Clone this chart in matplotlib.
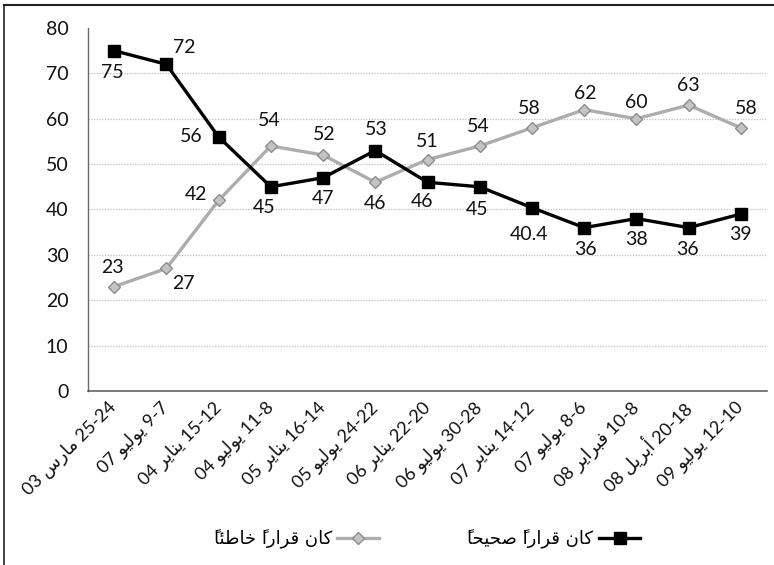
import matplotlib
matplotlib.use("Agg")
import matplotlib.pyplot as plt
from matplotlib.lines import Line2D

# ---- data -------------------------------------------------------------
days = ["25-24", "9-7", "15-12", "11-8", "16-14", "24-22", "22-20",
        "30-28", "14-12", "8-6", "10-8", "20-18", "12-10"]
months = ["مارس", "يوليو", "يناير", "يوليو", "يناير", "يوليو", "يناير",
          "يوليو", "يناير", "يوليو", "فبراير", "أبريل", "يوليو"]
years = ["03", "07", "04", "04", "05", "05", "06",
         "06", "07", "07", "08", "08", "09"]

right_decision = [75, 72, 56, 45, 47, 53, 46, 45, 40.4, 36, 38, 36, 39]
wrong_decision = [23, 27, 42, 54, 52, 46, 51, 54, 58, 62, 60, 63, 58]

label_right = "كان قراراً صحيحاً"
label_wrong = "كان قراراً خاطئاً"

yticks = [0, 10, 20, 30, 40, 50, 60, 70, 80]

# value-label offsets in points (dx, dy)
off_right = [(-1, -16), (13, 12), (-20, 0), (-5, -15), (0, -15), (1, 15),
             (-4, -14), (-2, -16), (-2, -19), (1, -16), (0, -15), (-1, -16),
             (0, -15)]
off_wrong = [(-1, 14), (12, -11), (-16, 4), (-1, 18), (1, 15), (0, -15),
             (0, 13), (-1, 14), (-2, 14), (1, 12), (0, 12), (0, 14), (4, 14)]


# ---- minimal Arabic shaping (contextual forms + visual order) ---------
# letter: (isolated, final, initial, medial); None = letter does not join left
FORMS = {
    "\u0623": ("\uFE83", "\uFE84", None, None),
    "\u0626": ("\uFE89", "\uFE8A", "\uFE8B", "\uFE8C"),
    "\u0627": ("\uFE8D", "\uFE8E", None, None),
    "\u0628": ("\uFE8F", "\uFE90", "\uFE91", "\uFE92"),
    "\u062A": ("\uFE95", "\uFE96", "\uFE97", "\uFE98"),
    "\u062D": ("\uFEA1", "\uFEA2", "\uFEA3", "\uFEA4"),
    "\u062E": ("\uFEA5", "\uFEA6", "\uFEA7", "\uFEA8"),
    "\u062F": ("\uFEA9", "\uFEAA", None, None),
    "\u0631": ("\uFEAD", "\uFEAE", None, None),
    "\u0633": ("\uFEB1", "\uFEB2", "\uFEB3", "\uFEB4"),
    "\u0635": ("\uFEB9", "\uFEBA", "\uFEBB", "\uFEBC"),
    "\u0637": ("\uFEC1", "\uFEC2", "\uFEC3", "\uFEC4"),
    "\u0641": ("\uFED1", "\uFED2", "\uFED3", "\uFED4"),
    "\u0642": ("\uFED5", "\uFED6", "\uFED7", "\uFED8"),
    "\u0643": ("\uFED9", "\uFEDA", "\uFEDB", "\uFEDC"),
    "\u0644": ("\uFEDD", "\uFEDE", "\uFEDF", "\uFEE0"),
    "\u0645": ("\uFEE1", "\uFEE2", "\uFEE3", "\uFEE4"),
    "\u0646": ("\uFEE5", "\uFEE6", "\uFEE7", "\uFEE8"),
    "\u0648": ("\uFEED", "\uFEEE", None, None),
    "\u064A": ("\uFEF1", "\uFEF2", "\uFEF3", "\uFEF4"),
}
MARKS = {"\u064B", "\u064E", "\u064F", "\u0650", "\u0651", "\u0652"}


def shape_word(word):
    clusters = []
    for ch in word:
        if ch in MARKS and clusters:
            clusters[-1].append(ch)
        else:
            clusters.append([ch])
    bases = [c[0] for c in clusters]
    for i, b in enumerate(bases):
        if b not in FORMS:
            continue
        prev_b = bases[i - 1] if i > 0 else None
        next_b = bases[i + 1] if i + 1 < len(bases) else None
        joins_prev = prev_b in FORMS and FORMS[prev_b][2] is not None
        joins_next = next_b in FORMS and FORMS[b][2] is not None
        iso, fin, ini, med = FORMS[b]
        if joins_prev and joins_next:
            form = med
        elif joins_prev:
            form = fin
        elif joins_next:
            form = ini
        else:
            form = iso
        clusters[i][0] = form
    # marks are drawn to the right of their pen position, so they go first
    return "".join("".join(reversed(c)) for c in reversed(clusters))


def shape(text):
    return " ".join(shape_word(w) for w in reversed(text.split()))


# ---- figure -----------------------------------------------------------
FAMILY = ["Lato", "DejaVu Sans"]
plt.rcParams["font.family"] = FAMILY

W, H = 774, 565
fig = plt.figure(figsize=(W / 100, H / 100), dpi=100)
ax = fig.add_axes([88 / W, 1 - 391 / H, (767 - 88) / W, (391 - 28) / H])

x = list(range(len(days)))

ax.set_xlim(-0.5, len(days) - 0.5)
ax.set_ylim(0, 80)
ax.set_yticks(yticks)
ax.tick_params(axis="y", length=0, pad=14, labelsize=14, labelcolor="#111111")
ax.tick_params(axis="x", length=0, pad=10)

for v in yticks[1:-1]:
    ax.axhline(v, color="#c9bfb2", lw=0.9, ls=(0, (1, 1.2)), zorder=0)

for s in ("top", "right"):
    ax.spines[s].set_visible(False)
ax.spines["left"].set_color("#6a6a6a")
ax.spines["left"].set_linewidth(1.0)
ax.spines["bottom"].set_color("#555555")
ax.spines["bottom"].set_linewidth(1.1)

tick_text = [f"{y} {shape(m)} {d}" for d, m, y in zip(days, months, years)]
ax.set_xticks(x)
ax.set_xticklabels(tick_text, rotation=45, ha="right", va="center",
                   rotation_mode="anchor", fontsize=13, color="#111111")

wrong_line, = ax.plot(x, wrong_decision, color="#adadad", lw=2.4,
                      marker="D", ms=6.5, mfc="#c4c4c4", mec="#8c8c8c",
                      mew=1.0, zorder=3, label=shape(label_wrong))
right_line, = ax.plot(x, right_decision, color="#000000", lw=2.4,
                      marker="s", ms=8.5, mfc="#000000", mec="#000000",
                      zorder=4, label=shape(label_right))

for xi, v, (dx, dy) in zip(x, right_decision, off_right):
    ax.annotate(f"{v:g}", (xi, v), xytext=(dx, dy), textcoords="offset points",
                ha="center", va="center", fontsize=14, color="#111111")
for xi, v, (dx, dy) in zip(x, wrong_decision, off_wrong):
    ax.annotate(f"{v:g}", (xi, v), xytext=(dx, dy), textcoords="offset points",
                ha="center", va="center", fontsize=14, color="#111111")

leg = fig.legend(handles=[wrong_line, right_line], ncol=2, markerfirst=False,
                 frameon=False, loc="center", bbox_to_anchor=(427 / W, 1 - 539 / H),
                 prop={"family": ["DejaVu Sans"], "size": 13},
                 handlelength=2.3, handletextpad=0.3, columnspacing=4.9)

# page frame (left and top edges)
fig.add_artist(Line2D([4 / W, 4 / W], [0, 1 - 5 / H], color="#222222", lw=1.2))
fig.add_artist(Line2D([4 / W, 1], [1 - 5 / H, 1 - 5 / H], color="#222222", lw=1.5))

fig.savefig("out.png", dpi=100)
